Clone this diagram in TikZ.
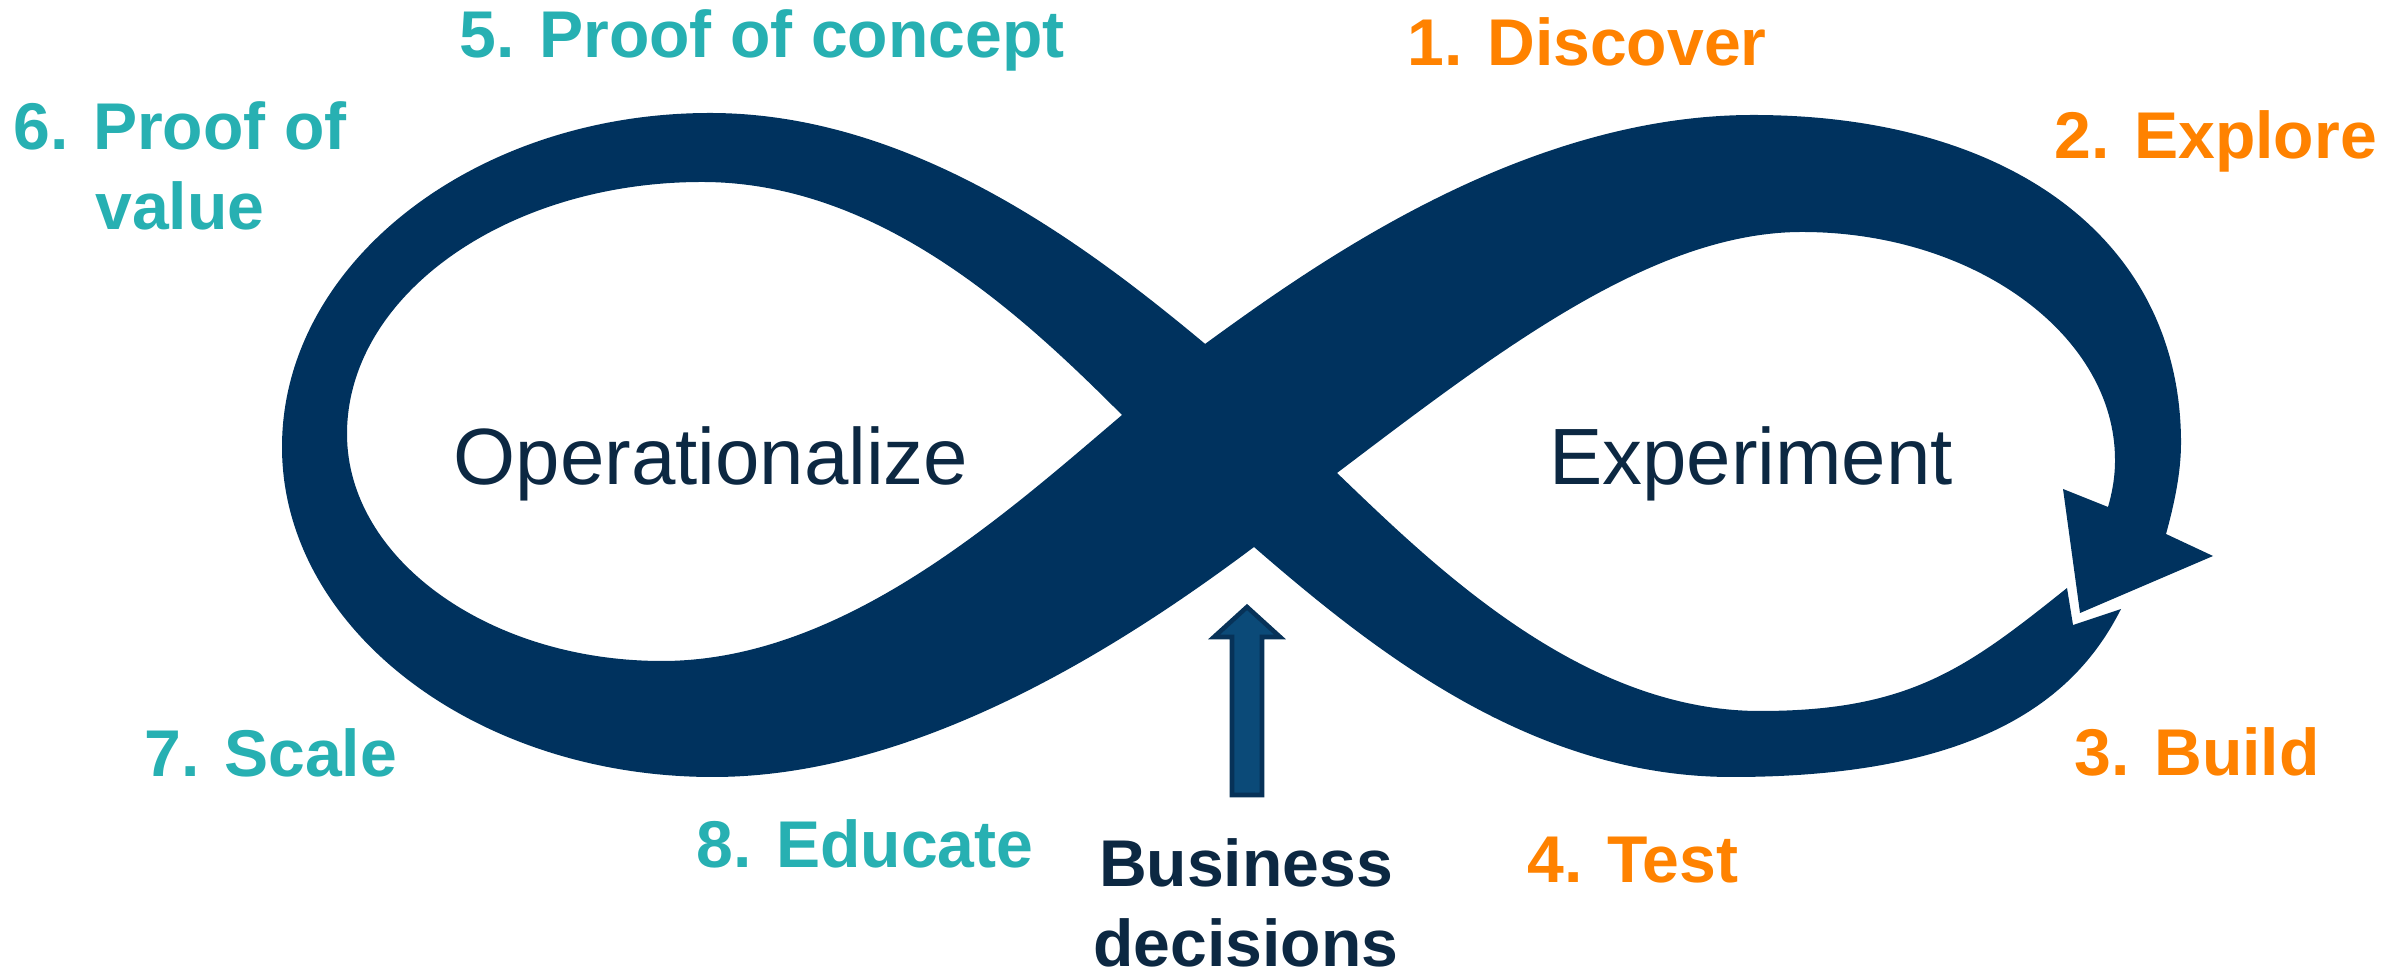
\documentclass[tikz,border=0pt]{standalone}
\usepackage{fontspec}
\setmainfont{Liberation Sans}
\definecolor{loopblue}{RGB}{0,50,94}
\definecolor{tealtext}{RGB}{39,176,178}
\definecolor{orangetext}{RGB}{255,130,0}
\definecolor{darktext}{RGB}{12,40,66}
\definecolor{arrowfill}{RGB}{11,74,120}
\definecolor{arrowedge}{RGB}{7,50,88}
\begin{document}
\begin{tikzpicture}[x=0.01cm,y=-0.01cm,
  band/.style={fill=loopblue},
  phase/.style={inner sep=0pt,font=\fontsize{18.8pt}{22.8pt}\selectfont\bfseries},
  explabel/.style={phase,text=orangetext},
  oplabel/.style={phase,text=tealtext},
  decision/.style={phase,text=darktext},
  looplabel/.style={inner sep=0pt,text=darktext,font=\fontsize{22.7pt}{27pt}\selectfont},
  blockarrow/.style={fill=arrowfill,draw=arrowedge,line width=1.3pt,line join=miter}]
\useasboundingbox (0,0) rectangle (2400,977);

% the figure-eight ribbon: one edge from the tail to the arrowhead, the other edge back
\fill[band]
  % lower band of the right loop, inner edge
  (2067,588) .. controls (1967,668) and (1910,711) .. (1760,711)
             .. controls (1580,711) and (1431,563) .. (1336,472)
  -- (1204,343)
  % outer edge of the left loop
             .. controls (1084,243) and (910,113) .. (710,113)
             .. controls (475,113) and (282,263) .. (282,447)
             .. controls (282,629) and (476,777) .. (713,777)
             .. controls (913,777) and (1114,652) .. (1254,547)
  -- (1337,473)
  % upper band of the right loop, inner edge
             .. controls (1497,352) and (1652,232) .. (1802,232)
             .. controls (1974,232) and (2115,335) .. (2115,460)
             .. controls (2115,478) and (2112,493) .. (2108,507)
  % arrowhead
  -- (2063,489) -- (2080,613) -- (2213,556) -- (2166,534)
  % outer edge of the right loop
             .. controls (2174,505) and (2181,473) .. (2181,443)
             .. controls (2181,240) and (2010,115) .. (1753,115)
             .. controls (1523,115) and (1315,264) .. (1205,344)
  -- (1122,415)
  % inner edge of the left loop
             .. controls (1002,517) and (842,661) .. (662,661)
             .. controls (489,661) and (347,559) .. (347,434)
             .. controls (347,295) and (507,182) .. (702,182)
             .. controls (880,182) and (1022,315) .. (1122,415)
  -- (1254,547)
  % lower band of the right loop, outer edge, ending in the notched tail
             .. controls (1374,651) and (1532,777) .. (1732,777)
             .. controls (1992,777) and (2080,690) .. (2121,609)
  -- (2073,625) -- cycle;

% loop names
\node[looplabel,anchor=base] (ops) at (711,485) {Operationalize};
\node[looplabel,anchor=base] (exp) at (1751,485) {Experiment};

% experiment phases
\node[explabel,anchor=base west] (discover) at (1407,66) {1. Discover};
\node[explabel,anchor=base west] (explore) at (2054,159) {2. Explore};
\node[explabel,anchor=base west] (build) at (2074,776) {3. Build};
\node[explabel,anchor=base west] (test) at (1527,883) {4. Test};

% operationalize phases
\node[oplabel,anchor=base west] (poc) at (459,58) {5. Proof of concept};
\node[oplabel,anchor=base,align=center] (pov) at (180,230) {6. Proof of\\value};
\node[oplabel,anchor=base west] (scale) at (144,777) {7. Scale};
\node[oplabel,anchor=base west] (educate) at (696,868) {8. Educate};

% business decisions feeding the crossing
\node[decision,anchor=base,align=center] (business) at (1246,967) {Business\\decisions};
\draw[blockarrow] (1247,607) -- (1280,637) -- (1262,637) -- (1262,795) -- (1232,795)
  -- (1232,637) -- (1214,637) -- cycle;
\end{tikzpicture}
\end{document}
